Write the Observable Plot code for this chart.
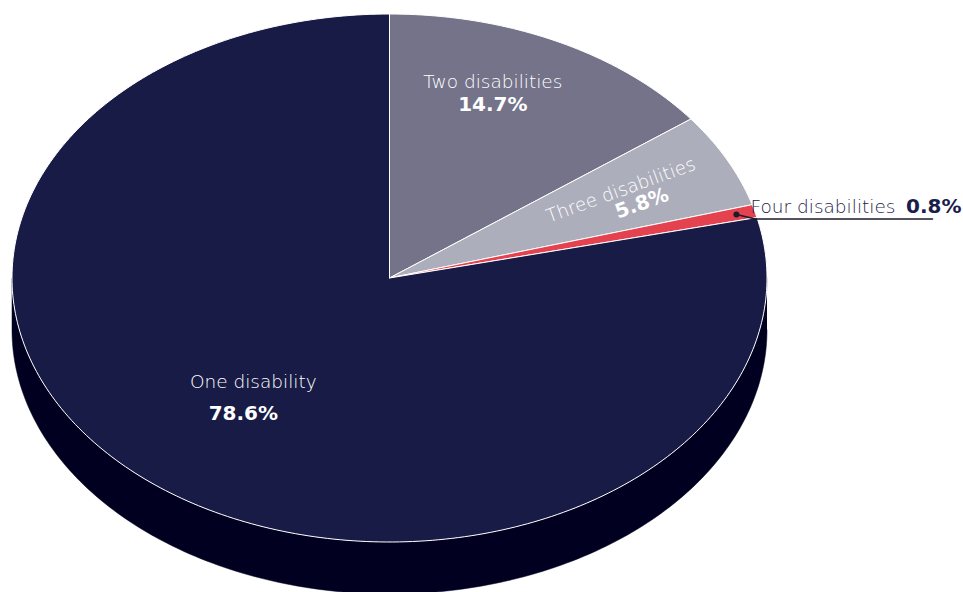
<!DOCTYPE html>
<html>
<head>
<meta charset="utf-8">
<script src="https://cdn.jsdelivr.net/npm/d3@7"></script>
<script src="https://cdn.jsdelivr.net/npm/@observablehq/plot@0.6"></script>
<style>
  html, body { margin: 0; padding: 0; background: #fff; }
  #chart { width: 963px; height: 592px; }
  svg { font-family: "DejaVu Sans", sans-serif; }
  svg text.nm { letter-spacing: 0.3px; }
</style>
</head>
<body>
<div id="chart"></div>
<script>
// ---- data ----
const categories = ["Two disabilities", "Three disabilities", "Four disabilities", "One disability"];
const values = [14.7, 5.8, 0.8, 78.6];
const valueLabels = ["14.7%", "5.8%", "0.8%", "78.6%"];
const colors = ["#747389", "#adaebb", "#e5424f", "#171b45"];
const sideColor = "#010020";

// ---- layout ----
const W = 963, H = 592;
const cx = 389, cy = 277.5, rx = 377.5, ry = 264;
const depth = 52 / ry; // in unit coords
const total = d3.sum(values);
const deg = Math.PI / 180;
const pt = (a, r = 1, dy = 0) => ({x: r * Math.sin(a), y: r * Math.cos(a) - dy});

// slices (clockwise from 12 o'clock)
let acc = 0;
const slices = categories.map((c, i) => {
  const a0 = acc / total * 2 * Math.PI;
  acc += values[i];
  const a1 = acc / total * 2 * Math.PI;
  const pts = [{x: 0, y: 0}];
  const n = Math.max(2, Math.ceil((a1 - a0) / deg));
  for (let k = 0; k <= n; k++) pts.push(pt(a0 + (a1 - a0) * k / n));
  pts.push({x: 0, y: 0});
  return {name: c, value: values[i], label: valueLabels[i], color: colors[i], a0, a1, mid: (a0 + a1) / 2, pts};
});

// side band (lower half of the ellipse extruded downwards)
const side = [];
for (let k = 0; k <= 180; k++) side.push(pt(90 * deg + k * deg));
for (let k = 180; k >= 0; k--) side.push(pt(90 * deg + k * deg, 1, depth));

const bySlice = Object.fromEntries(slices.map(s => [s.name, s]));
const pos = (s, r) => pt(s.mid, r);

// label layout: radius factor on the slice's mid-angle + pixel nudges
const inner = [
  {s: "Two disabilities", r: 0.78, ndx: -28, ndy: -12, pdx: -28, pdy: 11, rot: 0},
  {s: "Three disabilities", r: 0.70, ndx: -5, ndy: -5, pdx: 16, pdy: 8, rot: -20},
  {s: "One disability", r: 0.50, ndx: -19, ndy: 1, pdx: -29, pdy: 32, rot: 0}
];

const marks = [
  Plot.line(side, {x: "x", y: "y", fill: sideColor, stroke: sideColor, strokeWidth: 0.5, curve: "linear"}),
  ...slices.map(s => Plot.line(s.pts, {x: "x", y: "y", fill: s.color, stroke: "#ffffff", strokeWidth: 1, strokeLinejoin: "round", curve: "linear"}))
];

for (const L of inner) {
  const s = bySlice[L.s];
  const p = pos(s, L.r);
  marks.push(Plot.text([p], {x: "x", y: "y", text: () => s.name, dx: L.ndx, dy: L.ndy, rotate: L.rot,
    fill: "#ffffff", fontSize: 18.5, fontWeight: 200, className: "nm"}));
  marks.push(Plot.text([p], {x: "x", y: "y", text: () => s.label, dx: L.pdx, dy: L.pdy, rotate: L.rot,
    fill: "#ffffff", fontSize: 20, fontWeight: 700}));
}

// Four disabilities: outside label with leader
const four = bySlice["Four disabilities"];
const dot = pos(four, 0.95);
const elbow = {x: (755 - cx) / rx, y: (cy - 218.5) / ry};
const lineEnd = {x: (932 - cx) / rx, y: (cy - 218.5) / ry};
marks.push(
  Plot.line([dot, elbow, lineEnd], {x: "x", y: "y", stroke: "#1b1b2b", strokeWidth: 1.6, curve: "linear"}),
  Plot.dot([dot], {x: "x", y: "y", r: 3, fill: "#1b1b2b"}),
  Plot.text([elbow], {x: "x", y: "y", text: () => four.name, dx: -5, dy: -12, textAnchor: "start",
    fill: "#1a1d4a", fontSize: 18.5, fontWeight: 200, className: "nm"}),
  Plot.text([lineEnd], {x: "x", y: "y", text: () => four.label, dx: 29, dy: -12, textAnchor: "end",
    fill: "#1a1d4a", fontSize: 20, fontWeight: 700})
);

const chart = Plot.plot({
  width: W, height: H,
  margin: 0,
  x: {domain: [-1, 1], range: [cx - rx, cx + rx], axis: null},
  y: {domain: [-1, 1], range: [cy + ry, cy - ry], axis: null},
  marks
});
document.getElementById("chart").append(chart);
</script>
</body>
</html>
